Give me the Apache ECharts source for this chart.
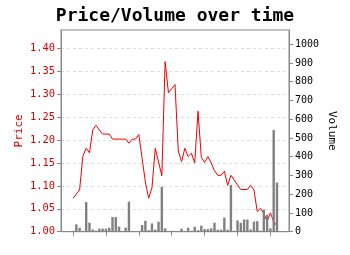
<!DOCTYPE html>
<html>
<head>
<meta charset="utf-8">
<script src="https://cdn.jsdelivr.net/npm/echarts@6/dist/echarts.min.js"></script>
<style>html,body{margin:0;padding:0;background:#fff;}#c{width:350px;height:255px;}</style>
</head>
<body>
<div id="c"></div>
<script>
const price = [1.073,1.082,1.091,1.165,1.182,1.172,1.222,1.232,1.222,1.213,
  1.213,1.213,1.202,1.202,1.202,1.202,1.202,1.193,1.202,1.202,
  1.212,1.160,1.108,1.073,1.096,1.182,1.152,1.122,1.371,1.303,
  1.312,1.321,1.176,1.153,1.182,1.164,1.171,1.150,1.263,1.162,
  1.151,1.164,1.150,1.133,1.123,1.123,1.132,1.101,1.123,1.113,
  1.102,1.092,1.092,1.092,1.101,1.091,1.044,1.051,1.040,1.022,
  1.041,1.022,1.013];
const volume = [4,39,21,2,158,48,12,5,16,16,
  16,21,78,78,27,2,22,160,0,0,
  0,35,58,8,44,11,53,240,18,4,
  5,2,0,16,2,21,5,27,8,32,
  14,14,18,48,11,11,75,11,250,5,
  60,47,65,65,12,54,56,5,118,90,
  18,543,262];
const priceTicks = [1.00,1.05,1.10,1.15,1.20,1.25,1.30,1.35,1.40];
const volumeTicks = [0,100,200,300,400,500,600,700,800,900,1000];
const xTicks = [0,10,20,30,40,50,60];

const priceData = price.map((v,i)=>[i,v]);
const volData = volume.map((v,i)=>[i,v]);
const mono = 'DejaVu Sans Mono';
const axisCol = '#888';

const chart = echarts.init(document.getElementById('c'), null, {renderer:'canvas'});
chart.setOption({
  animation:false,
  title:{text:'Price/Volume over time', left:'center', top:2,
    textStyle:{fontFamily:mono, fontWeight:'bold', fontSize:18, color:'#000'}},
  grid:{left:61, right:61, top:30, bottom:23.3, show:true, borderColor:axisCol, borderWidth:1},
  xAxis:{type:'value', min:-3.65, max:65.65,
    axisLine:{show:true, onZero:false, lineStyle:{color:axisCol}},
    axisTick:{show:true, customValues:xTicks, length:4, lineStyle:{color:axisCol}},
    axisLabel:{show:false}, splitLine:{show:false}},
  yAxis:[
    {type:'value', position:'left', min:1.0, max:1.44, interval:0.05,
     name:'Price', nameLocation:'middle', nameGap:36, nameRotate:90, nameMoveOverlap:false,
     nameTextStyle:{color:'#dd0000', fontFamily:mono, fontSize:11},
     axisLine:{show:true, onZero:false, lineStyle:{color:axisCol}},
     axisTick:{show:true, customValues:priceTicks, length:4, lineStyle:{color:axisCol}},
     axisLabel:{customValues:priceTicks, margin:6, color:'#dd0000', fontFamily:mono, fontSize:10.4,
       formatter:v=>v.toFixed(2)},
     splitLine:{show:true, lineStyle:{color:'#dddddd', type:[3,3], width:1}}},
    {type:'value', position:'right', min:0, max:1076, interval:100,
     name:'Volume', nameLocation:'middle', nameGap:37, nameRotate:-90, nameMoveOverlap:false,
     nameTextStyle:{color:'#000', fontFamily:mono, fontSize:11},
     axisLine:{show:true, onZero:false, lineStyle:{color:axisCol}},
     axisTick:{show:true, customValues:volumeTicks, length:4, lineStyle:{color:axisCol}},
     axisLabel:{customValues:volumeTicks, margin:6, color:'#000', fontFamily:mono, fontSize:10,
       formatter:v=>String(v)},
     splitLine:{show:false}}
  ],
  series:[
    {type:'line', yAxisIndex:0, data:priceData, symbol:'none', z:2,
     lineStyle:{color:'#ee0000', width:1}},
    {type:'bar', yAxisIndex:1, data:volData, barWidth:2.4, z:3,
     itemStyle:{color:'#808080'}}
  ]
});
</script>
</body>
</html>
